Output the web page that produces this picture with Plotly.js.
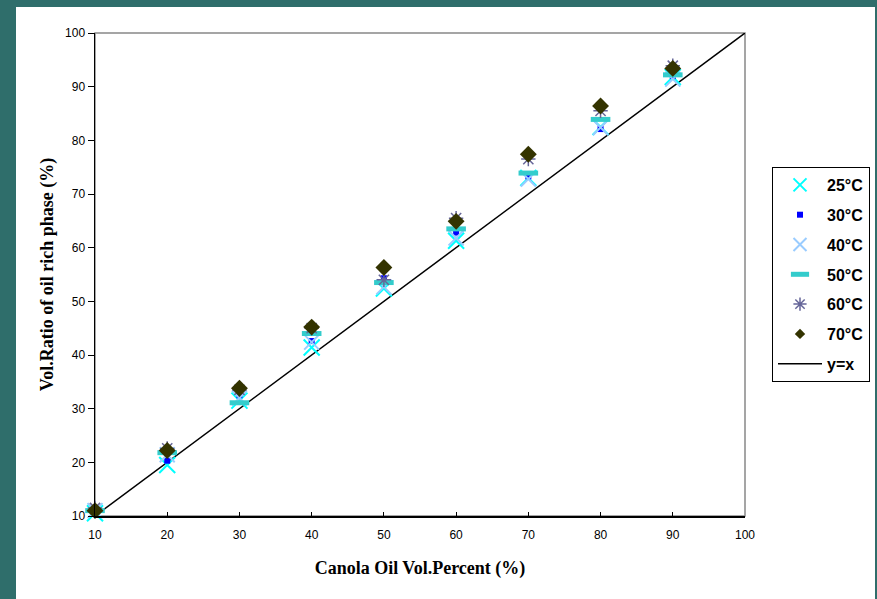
<!DOCTYPE html>
<html>
<head>
<meta charset="utf-8">
<script src="https://cdn.plot.ly/plotly-3.0.1.min.js"></script>
<style>
html,body{margin:0;padding:0;background:#2F6E6B;width:877px;height:599px;overflow:hidden;}
#chart{position:absolute;left:16px;top:7px;width:859px;height:592px;background:#fff;}
</style>
</head>
<body>
<div id="chart"></div>
<script>
const conc = [10, 20, 30, 40, 50, 60, 70, 80, 90];
const t25 = [10.5, 19.5, 31.5, 41.4, 52.4, 61.3, 73.0, 82.5, 91.8];
const t30 = [11.3, 20.3, 32.5, 42.6, 54.3, 62.8, 73.3, 82.1, 92.0];
const t40 = [11.0, 21.4, 32.0, 42.4, 52.7, 61.8, 72.8, 82.4, 91.4];
const t50 = [11.0, 21.8, 31.1, 44.0, 53.5, 63.5, 73.9, 83.9, 92.2];
const t60 = [11.5, 22.6, 33.5, 45.0, 54.0, 65.5, 76.5, 85.5, 93.9];
const t70 = [11.0, 22.2, 33.8, 45.2, 56.3, 64.9, 77.4, 86.4, 93.4];
const lineX = [10, 100];
const lineY = [10, 100];
const seriesNames = ['25°C', '30°C', '40°C', '50°C', '60°C', '70°C', 'y=x'];
const tickVals = [10, 20, 30, 40, 50, 60, 70, 80, 90, 100];

const styles = [
  {symbol: 'x-thin-open', size: 16, legSize: 13, color: '#00FFFF', lw: 2},
  {symbol: 'square', size: 6, legSize: 6, color: '#0000FF', lw: 0},
  {symbol: 'x-thin-open', size: 15, legSize: 13, color: '#99CCFF', lw: 2},
  {symbol: 'line-ew-open', size: 14, legSize: 13, color: '#33CCCC', lw: 5},
  {symbol: 'asterisk-open', size: 12, legSize: 11, color: '#666699', lw: 1.5},
  {symbol: 'diamond', size: 13, legSize: 8, color: '#333300', lw: 0}
];
const seriesData = [t25, t30, t40, t50, t60, t70];

const traces = [
  {x: lineX, y: lineY, mode: 'lines', name: seriesNames[6], showlegend: false,
   line: {color: '#000', width: 1.5}, hoverinfo: 'skip'}
];
seriesData.forEach((ys, i) => {
  const s = styles[i];
  traces.push({x: conc, y: ys, mode: 'markers', name: seriesNames[i], showlegend: false, cliponaxis: false,
    marker: {symbol: s.symbol, size: s.size, color: s.color, line: {color: s.color, width: s.lw}}});
});
// legend entries
styles.forEach((s, i) => {
  traces.push({x: [null], y: [null], mode: 'markers', name: seriesNames[i], legendgroup: 'g' + i,
    marker: {symbol: s.symbol, size: s.legSize, color: s.color, line: {color: s.color, width: s.lw}}});
});
traces.push({x: [null], y: [null], mode: 'lines', name: seriesNames[6], legendgroup: 'g7',
  line: {color: '#000', width: 1.5}});

const layout = {
  width: 859, height: 592,
  paper_bgcolor: '#fff', plot_bgcolor: '#fff',
  margin: {l: 79, r: 130, t: 26, b: 83},
  font: {family: 'Liberation Sans, Arial, sans-serif', color: '#000', size: 12},
  showlegend: true,
  xaxis: {
    range: [10, 100], tickvals: tickVals, ticktext: tickVals.map(String),
    showgrid: false, zeroline: false, showline: true, linecolor: '#000', linewidth: 1.5,
    ticks: 'inside', ticklen: 4, tickcolor: '#000', tickwidth: 1, ticklabelstandoff: 7,
    tickfont: {size: 12, family: 'Liberation Sans, Arial, sans-serif', color: '#000'},
    title: {text: 'Canola Oil Vol.Percent (%)', standoff: 20,
      font: {family: 'Liberation Serif, Times New Roman, serif', size: 18, weight: 'bold', color: '#000'}}
  },
  yaxis: {
    range: [10, 100], tickvals: tickVals, ticktext: tickVals.map(String),
    showgrid: false, zeroline: false, showline: true, linecolor: '#000', linewidth: 1.5,
    ticks: 'outside', ticklen: 6, tickcolor: '#000', tickwidth: 1,
    tickfont: {size: 12, family: 'Liberation Sans, Arial, sans-serif', color: '#000'},
    title: {text: 'Vol.Ratio of oil rich phase (%)', standoff: 7,
      font: {family: 'Liberation Serif, Times New Roman, serif', size: 18, weight: 'bold', color: '#000'}}
  },
  shapes: [
    {type: 'rect', xref: 'paper', yref: 'paper', x0: 0, x1: 1, y0: 0, y1: 1,
     line: {color: '#888', width: 1.5}, layer: 'below'}
  ],
  legend: {
    xref: 'container', yref: 'container',
    x: 756 / 859, y: 1 - 160 / 592, xanchor: 'left', yanchor: 'top',
    bgcolor: '#fff', bordercolor: '#000', borderwidth: 1,
    font: {family: 'Liberation Sans, Arial, sans-serif', size: 16, weight: 'bold', color: '#000'},
    tracegroupgap: 6, traceorder: 'grouped', itemwidth: 44
  }
};

Plotly.newPlot('chart', traces, layout, {displayModeBar: false, staticPlot: true});
</script>
</body>
</html>
